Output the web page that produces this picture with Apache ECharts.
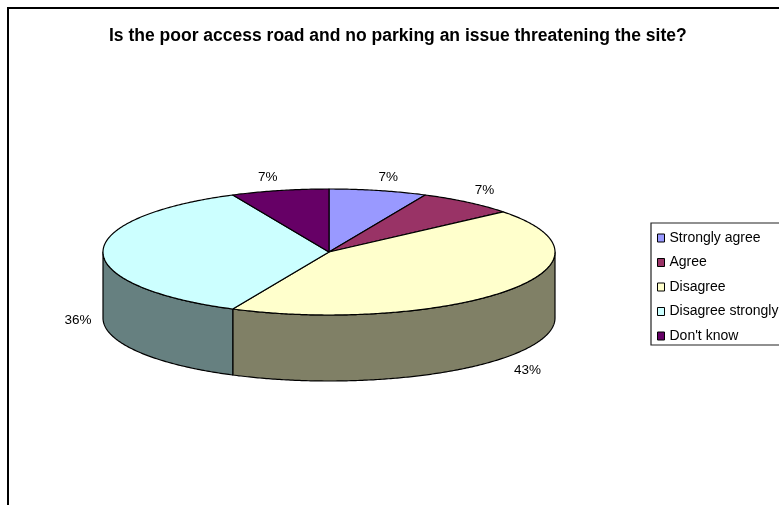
<!DOCTYPE html>
<html>
<head>
<meta charset="utf-8">
<style>html,body{margin:0;padding:0;background:#fff}#chart{width:779px;height:505px}</style>
<script src="https://cdn.jsdelivr.net/npm/echarts@6/dist/echarts.min.js"></script>
</head>
<body>
<div id="chart"></div>
<script>
// Survey responses, in percent
const categories = ["Strongly agree", "Agree", "Disagree", "Disagree strongly", "Don't know"];
const percents = [7, 7, 43, 36, 7];
const topColors = ['#9999FF', '#993366', '#FFFFCC', '#CCFFFF', '#660066'];
const wallColors = ['#4C4C80', '#4C1933', '#808066', '#668080', '#330033'];
const titleText = 'Is the poor access road and no parking an issue threatening the site?';

// Tilted disc geometry
const disc = { cx: 329, cy: 252, rx: 226, ry: 63, depth: 66 };
// Label nudges from the rim point at each slice's middle angle
const labelNudge = [[10, -13], [17, -12], [20, 14], [-25, 35], [-12, -13]];

const fontFamily = '"Liberation Sans", Arial, sans-serif';
const total = percents.reduce((a, b) => a + b, 0);

function rim(angle, drop) {
  return [disc.cx + disc.rx * Math.sin(angle), disc.cy - disc.ry * Math.cos(angle) + drop];
}
function arcPoints(from, to, drop) {
  const steps = Math.max(2, Math.ceil((to - from) / 0.01));
  const pts = [];
  for (let i = 0; i <= steps; i++) pts.push(rim(from + (to - from) * i / steps, drop));
  return pts;
}

function makeRenderItem(index) {
  return function (params, api) {
    const before = percents.slice(0, index).reduce((a, b) => a + b, 0);
    const start = before / total * 2 * Math.PI;
    const end = start + api.value(0) / total * 2 * Math.PI;
    const mid = (start + end) / 2;
    const children = [];
    const frontFrom = Math.max(start, Math.PI / 2);
    const frontTo = Math.min(end, Math.PI * 1.5);
    const edge = { stroke: '#000', lineWidth: 1.2, lineJoin: 'round' };
    if (frontTo > frontFrom) {
      const wall = arcPoints(frontFrom, frontTo, 0).concat(arcPoints(frontFrom, frontTo, disc.depth).reverse());
      children.push({ type: 'polygon', shape: { points: wall }, style: Object.assign({ fill: wallColors[index] }, edge) });
    }
    children.push({
      type: 'polygon',
      shape: { points: [[disc.cx, disc.cy]].concat(arcPoints(start, end, 0)) },
      style: Object.assign({ fill: topColors[index] }, edge)
    });
    const onSide = Math.abs(mid - Math.PI * 1.5) < 1e-6;
    const wallDrop = mid > Math.PI / 2 && mid < Math.PI * 1.5 ? disc.depth : 0;
    const anchor = rim(mid, onSide ? disc.depth / 2 : wallDrop);
    children.push({
      type: 'text',
      style: {
        x: anchor[0] + labelNudge[index][0],
        y: anchor[1] + labelNudge[index][1],
        text: api.value(0) + '%',
        fill: '#000',
        font: '13.5px ' + fontFamily,
        textAlign: 'center',
        textVerticalAlign: 'middle'
      }
    });
    return { type: 'group', children };
  };
}

const chart = echarts.init(document.getElementById('chart'), null, { renderer: 'canvas' });
chart.setOption({
  animation: false,
  backgroundColor: '#fff',
  title: {
    text: titleText,
    left: 109,
    top: 27,
    padding: 0,
    textStyle: { fontFamily, fontSize: 17.5, fontWeight: 'bold', color: '#000' }
  },
  legend: {
    orient: 'vertical',
    left: 651,
    top: 223,
    padding: [8, 12, 2, 6],
    itemWidth: 7,
    itemHeight: 8,
    itemGap: 10.5,
    icon: 'rect',
    backgroundColor: '#fff',
    borderColor: '#222',
    borderWidth: 1.2,
    selectedMode: false,
    data: categories,
    textStyle: { fontFamily, fontSize: 14, color: '#000' },
    itemStyle: { borderColor: '#000', borderWidth: 1 }
  },
  graphic: [{
    type: 'rect',
    z: -1,
    shape: { x: 8, y: 8, width: 1000, height: 1000 },
    style: { fill: '#fff', stroke: '#000', lineWidth: 2 }
  }],
  series: categories.map((name, i) => ({
    type: 'custom',
    name,
    coordinateSystem: 'none',
    color: topColors[i],
    renderItem: makeRenderItem(i),
    data: [[percents[i]]]
  }))
});
</script>
</body>
</html>
